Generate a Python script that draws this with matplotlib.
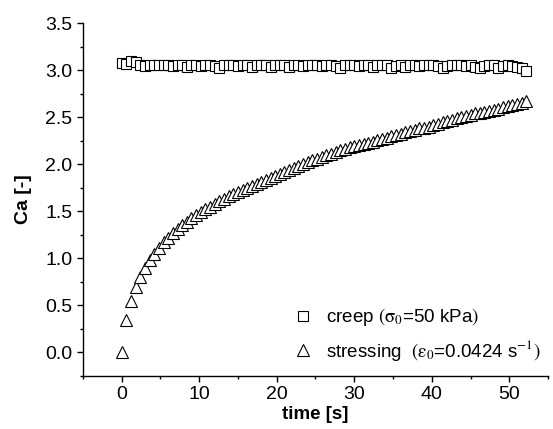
import matplotlib
matplotlib.use("Agg")
import matplotlib.pyplot as plt
from matplotlib.ticker import MultipleLocator

plt.rcParams["font.family"] = ["Liberation Sans", "DejaVu Sans"]
plt.rcParams["mathtext.fontset"] = "stix"

# time [s], sampled every 0.6 s
time = [0.0, 0.6, 1.2, 1.8, 2.4, 3.0, 3.6, 4.2, 4.8, 5.4,
        6.0, 6.6, 7.2, 7.8, 8.4, 9.0, 9.6, 10.2, 10.8, 11.4,
        12.0, 12.6, 13.2, 13.8, 14.4, 15.0, 15.6, 16.2, 16.8, 17.4,
        18.0, 18.6, 19.2, 19.8, 20.4, 21.0, 21.6, 22.2, 22.8, 23.4,
        24.0, 24.6, 25.2, 25.8, 26.4, 27.0, 27.6, 28.2, 28.8, 29.4,
        30.0, 30.6, 31.2, 31.8, 32.4, 33.0, 33.6, 34.2, 34.8, 35.4,
        36.0, 36.6, 37.2, 37.8, 38.4, 39.0, 39.6, 40.2, 40.8, 41.4,
        42.0, 42.6, 43.2, 43.8, 44.4, 45.0, 45.6, 46.2, 46.8, 47.4,
        48.0, 48.6, 49.2, 49.8, 50.4, 51.0, 51.6, 52.2]

creep = [3.08, 3.07, 3.10, 3.09, 3.05, 3.04, 3.06, 3.05, 3.05, 3.06,
         3.05, 3.04, 3.05, 3.06, 3.03, 3.05, 3.05, 3.04, 3.06, 3.05,
         3.04, 3.02, 3.05, 3.05, 3.05, 3.04, 3.05, 3.06, 3.03, 3.05,
         3.06, 3.05, 3.03, 3.05, 3.06, 3.05, 3.03, 3.05, 3.05, 3.04,
         3.05, 3.05, 3.06, 3.04, 3.05, 3.05, 3.04, 3.02, 3.05, 3.06,
         3.05, 3.04, 3.05, 3.05, 3.03, 3.05, 3.06, 3.05, 3.02, 3.04,
         3.06, 3.03, 3.05, 3.06, 3.04, 3.05, 3.05, 3.05, 3.04, 3.02,
         3.04, 3.05, 3.06, 3.05, 3.04, 3.05, 3.03, 3.02, 3.04, 3.06,
         3.05, 3.02, 3.04, 3.06, 3.04, 3.03, 3.02, 2.99]

stressing = [0.00, 0.34, 0.55, 0.69, 0.80, 0.90, 0.98, 1.05, 1.11, 1.17,
             1.22, 1.27, 1.31, 1.35, 1.39, 1.43, 1.46, 1.49, 1.52, 1.55,
             1.58, 1.61, 1.63, 1.66, 1.68, 1.70, 1.73, 1.75, 1.77, 1.79,
             1.81, 1.83, 1.85, 1.88, 1.90, 1.92, 1.94, 1.96, 1.98, 2.00,
             2.02, 2.04, 2.06, 2.08, 2.10, 2.11, 2.13, 2.15, 2.16, 2.18,
             2.19, 2.20, 2.22, 2.23, 2.24, 2.26, 2.27, 2.28, 2.30, 2.31,
             2.32, 2.34, 2.35, 2.36, 2.38, 2.39, 2.40, 2.42, 2.43, 2.45,
             2.46, 2.47, 2.49, 2.50, 2.51, 2.52, 2.54, 2.55, 2.56, 2.57,
             2.58, 2.59, 2.61, 2.62, 2.63, 2.64, 2.65, 2.67]

fig = plt.figure(figsize=(5.53, 4.29), dpi=100)
ax = fig.add_axes([0.150, 0.124, 0.841, 0.822])

ax.plot(time, creep, linestyle="none", marker="s", markersize=6.5,
        markerfacecolor="white", markeredgecolor="black", markeredgewidth=0.8,
        label=r"creep $(\mathrm{\sigma}_0$=50 kPa$)$")
ax.plot(time, stressing, linestyle="none", marker="^", markersize=8.8,
        markerfacecolor="white", markeredgecolor="black", markeredgewidth=0.8,
        label=r"stressing  $(\mathrm{\varepsilon}_0$=0.0424 s$^{-1})$")

ax.set_xlim(-5, 55)
ax.set_ylim(-0.25, 3.5)
ax.xaxis.set_major_locator(MultipleLocator(10))
ax.xaxis.set_minor_locator(MultipleLocator(5))
ax.yaxis.set_major_locator(MultipleLocator(0.5))
ax.yaxis.set_minor_locator(MultipleLocator(0.25))
ax.set_xticks([0, 10, 20, 30, 40, 50])
ax.set_yticks([0.0, 0.5, 1.0, 1.5, 2.0, 2.5, 3.0, 3.5])
ax.set_yticklabels(["0.0", "0.5", "1.0", "1.5", "2.0", "2.5", "3.0", "3.5"])

ax.spines["top"].set_visible(False)
ax.spines["right"].set_visible(False)
ax.spines["left"].set_linewidth(1.0)
ax.spines["bottom"].set_linewidth(1.0)
ax.tick_params(which="major", direction="out", length=4.5, width=1.0,
               labelsize=14, pad=3)
ax.tick_params(which="minor", direction="out", length=2.5, width=1.0)

ax.set_xlabel("time [s]", fontsize=13.5, fontweight="bold", labelpad=2)
ax.set_ylabel("Ca [-]", fontsize=14, fontweight="bold", labelpad=10)

ax.legend(loc="lower left", bbox_to_anchor=(0.42, 0.0), frameon=False,
          fontsize=13.5, handletextpad=0.65, labelspacing=0.5,
          handlelength=1.2, borderpad=0.2)

fig.savefig("out.png", dpi=100)
